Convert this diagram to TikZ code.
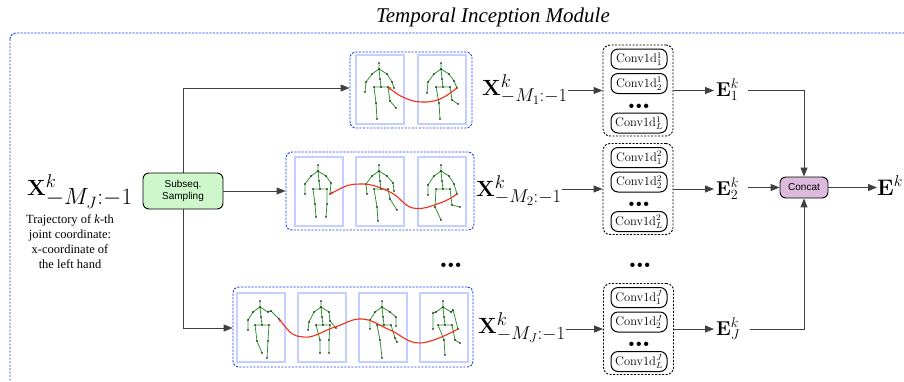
\RequirePackage{fix-cm}
\documentclass[tikz,border=0pt]{standalone}
\usepackage[no-math]{fontspec}
\newfontfamily\tnr{Liberation Serif}
\newfontfamily\hel{Liberation Sans}
\usetikzlibrary{arrows.meta}
\DeclareMathSizes{22}{22}{18.5}{13}
\definecolor{dblue}{RGB}{30,60,245}
\definecolor{fblue}{RGB}{195,208,255}
\definecolor{bonec}{RGB}{45,150,45}
\definecolor{traj}{RGB}{240,45,25}
\definecolor{ssgreen}{RGB}{206,247,204}
\definecolor{ccpurple}{RGB}{220,186,220}
\tikzset{
 bluebox/.style={draw=dblue, line width=0.9pt, dash pattern=on 2.2pt off 1.3pt, rounded corners=6pt},
 frm/.style={draw=fblue, line width=1.4pt},
 bonel/.style={draw=bonec, line width=0.8pt},
 trajl/.style={draw=traj, line width=1.1pt},
 conn/.style={draw=black!75, line width=0.95pt},
 arr/.style={conn, -{Triangle[length=9pt,width=7pt]}},
 grp/.style={draw=black, line width=0.9pt, dash pattern=on 2pt off 1.5pt, rounded corners=7pt, minimum width=70pt, minimum height=91pt},
 cbox/.style={draw=black, line width=1pt, rounded corners=7pt, minimum width=56pt, minimum height=20pt, inner sep=1pt, font=\fontsize{12.5}{14}\selectfont},
 mlab/.style={inner sep=0pt, font=\fontsize{22}{26}\selectfont},
 elab/.style={inner sep=2pt, font=\fontsize{20}{24}\selectfont},
 dotsl/.style={font=\fontsize{30}{32}\selectfont\bfseries, inner sep=0pt},
 hbox/.style={draw=black, line width=0.9pt, rounded corners=6pt, font=\hel\fontsize{10}{12}\selectfont, align=center, inner sep=1pt},
}
\newcommand\sk[9]{%
 \begin{scope}[shift={(#1)}]
 \draw[frm] (0,0) rectangle (48,69);
 \draw[bonel] (23,8)--(23,14) (23,14)--(16,19)--(#2)--(#3) (23,14)--(31,19)--(#4)--(#5) (23,14)--(24,24)--(25,32) (18,32)--(32,32) (18,32)--(#6)--(#7) (32,32)--(#8)--(#9);
 \foreach \q in {{23,8},{23,14},{16,19},{31,19},{#2},{#3},{#4},{#5},{24,24},{25,32},{18,32},{32,32},{#6},{#7},{#8},{#9}} \fill (\q) circle[radius=0.8pt];
 \end{scope}}
\begin{document}
\begin{tikzpicture}[x=1pt,y=-1pt]
\useasboundingbox (0,0) rectangle (904,381);
\clip (0,0) rectangle (904,381);
% outer module
\node[font=\tnr\itshape\fontsize{21}{24}\selectfont] (title) at (493,17) {Temporal Inception Module};
\draw[bluebox] (10,33) rectangle (940,420);
% input
\node[mlab, anchor=base west] (xin) at (27,195) {$\mathbf{X}^{k}_{\mbox{\fontsize{23.5}{26}\selectfont$-M_J{:}{-1}$}}$};
\node[font=\tnr\fontsize{12.5}{15}\selectfont, align=center] (cap) at (70,242) {Trajectory of \textit{k}-th\\joint coordinate:\\x-coordinate of\\the left hand};
% sampling
\coordinate (c1) at (183,88);
\coordinate (c3) at (183,328);
\draw[conn] (c1) -- (c3);
\node[hbox, fill=ssgreen, minimum width=80pt, minimum height=36pt] (ss) at (183,191) {Subseq.\\Sampling};
% sequence boxes
\node[bluebox, minimum width=122pt, minimum height=76pt] (seq1) at (411,90) {};
\node[bluebox, minimum width=188pt, minimum height=78pt] (seq2) at (380,191) {};
\node[bluebox, minimum width=240pt, minimum height=80pt] (seq3) at (353,327) {};
\draw[arr] (c1) -- (c1 -| seq1.west);
\draw[arr] (ss.east) -- (ss.east -| seq2.west);
\draw[arr] (c3) -- (c3 -| seq3.west);
% skeletons
\sk{356,55}{10,27}{9,37}{36,27}{38,33}{20,48}{21,64}{34,46}{40,53}
\sk{418,55}{10,27}{9,38}{36,26}{39,33}{21,48}{22,64}{34,45}{40,49}
\sk{295,157}{10,27}{10,37}{36,26}{35,37}{20,47}{21,60}{32,47}{31,60}
\sk{356,157}{10,27}{11,37}{37,26}{38,34}{21,50}{22,64}{34,42}{41,53}
\sk{418,157}{10,28}{10,38}{36,27}{39,37}{17,50}{23,63}{34,48}{42,50}
\sk{237,293}{11,27}{11,37}{34,18}{42,26}{20,48}{25,60}{31,48}{30,65}
\sk{298,293}{11,29}{10,37}{32,28}{38,35}{22,47}{22,60}{31,47}{31,60}
\sk{359,293}{11,27}{11,36}{37,24}{37,33}{21,47}{23,65}{36,45}{38,49}
\sk{420,293}{13,20}{13,36}{33,17}{38,36}{24,47}{25,62}{35,47}{40,50}
% trajectories
\draw[trajl, {Stealth[length=3pt,width=3pt]}-] plot[smooth, tension=0.7] coordinates {(388,87) (405,98) (422,102) (440,99) (457,88)};
\draw[trajl, {Stealth[length=3pt,width=3pt]}-] plot[smooth, tension=0.7] coordinates {(330,194) (360,184) (390,192) (413,208) (440,203) (457,194)};
\draw[trajl, {Stealth[length=3pt,width=3pt]}-] plot[smooth, tension=0.7] coordinates {(279,319) (303,337) (335,327) (362,319) (390,330) (420,343) (458,329)};
% subsequence labels
\node[mlab, anchor=base west] (x1) at (482,95) {$\mathbf{X}^{k}_{-M_1:-1}$};
\node[mlab, anchor=base west] (x2) at (476,196) {$\mathbf{X}^{k}_{-M_2:-1}$};
\node[mlab, anchor=base west] (x3) at (478,333) {$\mathbf{X}^{k}_{-M_J:-1}$};
\node[dotsl] (d1) at (451,265) {\ldots};
\node[dotsl] (d2) at (640,265) {\ldots};
% conv groups
\node[grp] (g1) at (638,90.5) {};
\node[cbox] (c11) at (639,59) {Conv1d$^{1}_{1}$};
\node[cbox] (c12) at (639,83.5) {Conv1d$^{1}_{2}$};
\node[dotsl] (c1d) at (639,106) {\ldots};
\node[cbox] (c1L) at (639,123) {Conv1d$^{1}_{L}$};
\node[grp] (g2) at (638,189) {};
\node[cbox] (c21) at (639,157.5) {Conv1d$^{2}_{1}$};
\node[cbox] (c22) at (639,182) {Conv1d$^{2}_{2}$};
\node[dotsl] (c2d) at (639,204.5) {\ldots};
\node[cbox] (c2L) at (639,221.5) {Conv1d$^{2}_{L}$};
\node[grp] (g3) at (638.5,329) {};
\node[cbox] (c31) at (639,297.5) {Conv1d$^{J}_{1}$};
\node[cbox] (c32) at (639,322) {Conv1d$^{J}_{2}$};
\node[dotsl] (c3d) at (639,344.5) {\ldots};
\node[cbox] (c3L) at (639,361.5) {Conv1d$^{J}_{L}$};
\draw[arr] (x1.east |- g1.west) -- (g1.west);
\draw[arr] (x2.east |- g2.west) -- (g2.west);
\draw[arr] (x3.east |- g3.west) -- (g3.west);
% embeddings
\node[elab, anchor=base west] (e1) at (714,96) {$\mathbf{E}^{k}_{1}$};
\node[elab, anchor=base west] (e2) at (714,195) {$\mathbf{E}^{k}_{2}$};
\node[elab, anchor=base west] (eJ) at (714,335) {$\mathbf{E}^{k}_{J}$};
\draw[arr] (g1.east) -- (g1.east -| e1.west);
\draw[arr] (g2.east) -- (g2.east -| e2.west);
\draw[arr] (g3.east) -- (g3.east -| eJ.west);
\node[hbox, fill=ccpurple, minimum width=48pt, minimum height=21pt] (cc) at (804,187.5) {Concat};
\node[inner sep=0pt, anchor=base west, font=\fontsize{22.5}{26}\selectfont] (eout) at (877,195) {$\mathbf{E}^{k}$};
\draw[arr] ([xshift=7pt]e1.east |- g1.east) -| (cc.north);
\draw[arr] ([xshift=7pt]e2.east |- cc.west) -- (cc.west);
\draw[arr] ([xshift=7pt]eJ.east |- g3.east) -| (cc.south);
\draw[arr] (cc.east) -- (cc.east -| eout.west);
\end{tikzpicture}
\end{document}
